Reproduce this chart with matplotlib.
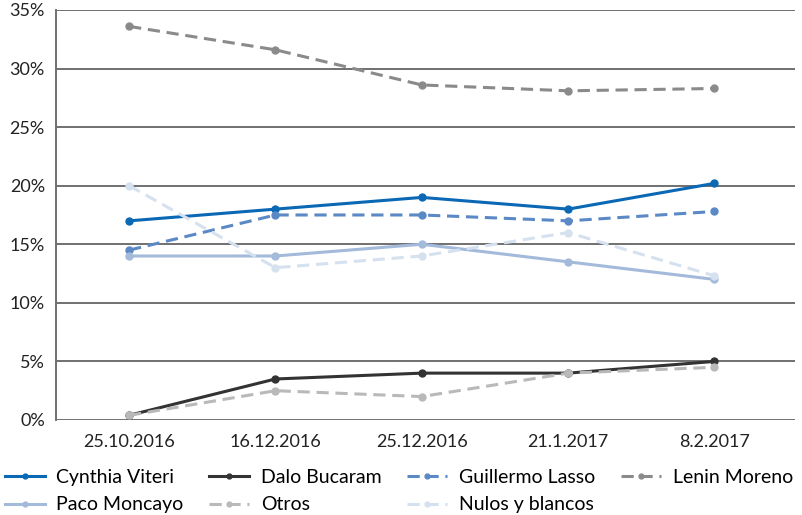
import matplotlib.pyplot as plt

dates = ["25.10.2016", "16.12.2016", "25.12.2016", "21.1.2017", "8.2.2017"]

cynthia_viteri = [17.0, 18.0, 19.0, 18.0, 20.2]
dalo_bucaram = [0.4, 3.5, 4.0, 4.0, 5.0]
guillermo_lasso = [14.5, 17.5, 17.5, 17.0, 17.8]
lenin_moreno = [33.6, 31.6, 28.6, 28.1, 28.3]
paco_moncayo = [14.0, 14.0, 15.0, 13.5, 12.0]
otros = [0.4, 2.5, 2.0, 4.0, 4.5]
nulos_blancos = [20.0, 13.0, 14.0, 16.0, 12.3]

plt.rcParams['font.family'] = ['Lato', 'DejaVu Sans']

fig = plt.figure(figsize=(8.03, 5.15), dpi=100)
ax = fig.add_axes([0.0697, 0.1845, 0.9203, 0.7961])

x = range(len(dates))
series = [
    ("Cynthia Viteri", cynthia_viteri, "#0a68b4", "-"),
    ("Dalo Bucaram", dalo_bucaram, "#333333", "-"),
    ("Guillermo Lasso", guillermo_lasso, "#5a89c6", "--"),
    ("Lenin Moreno", lenin_moreno, "#8a8a8a", "--"),
    ("Paco Moncayo", paco_moncayo, "#a3badb", "-"),
    ("Otros", otros, "#b9b9b9", "--"),
    ("Nulos y blancos", nulos_blancos, "#d6e1ef", "--"),
]
lines = {}
for name, vals, color, ls in series:
    ln, = ax.plot(x, vals, color=color, linestyle=ls, linewidth=2.2, marker="o",
                  markersize=5, label=name, dashes=(4, 2.2) if ls == "--" else (None, None))
    lines[name] = ln

ax.set_ylim(0, 35)
ax.set_xlim(-0.5, 4.55)
ax.set_yticks(range(0, 36, 5))
ax.set_yticklabels([f"{v}%" for v in range(0, 36, 5)])
ax.set_xticks(list(x))
ax.set_xticklabels(dates)
ax.tick_params(length=0, labelsize=13, colors="#222222")
ax.tick_params(axis="x", pad=10)
ax.tick_params(axis="y", pad=8)
ax.grid(axis="y", color="#707070", linewidth=1.4)
ax.set_axisbelow(True)
for side in ["top", "right", "bottom"]:
    ax.spines[side].set_visible(False)
ax.spines["left"].set_color("#707070")
ax.spines["left"].set_linewidth(1.4)

# legend fills column by column, so interleave to read row by row
order = ["Cynthia Viteri", "Paco Moncayo", "Dalo Bucaram", "Otros",
         "Guillermo Lasso", "Nulos y blancos", "Lenin Moreno"]
fig.legend([lines[n] for n in order], order, loc="upper left",
           bbox_to_anchor=(0.006, 0.09), ncol=4, frameon=False,
           fontsize=14, handlelength=2.05, handletextpad=0.6, columnspacing=1.33,
           labelspacing=0.55, borderaxespad=0, borderpad=0, markerscale=0.7)

fig.savefig("out.png", dpi=100)
